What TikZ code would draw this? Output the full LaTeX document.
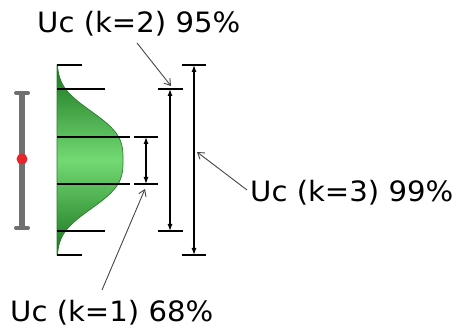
\documentclass[tikz,border=0pt]{standalone}
\usepackage{fontspec}
\setmainfont{DejaVu Sans}
\usetikzlibrary{arrows.meta}
\definecolor{gdark}{RGB}{25,115,30}
\definecolor{glight}{RGB}{115,218,115}
\definecolor{gedge}{RGB}{40,125,45}
\definecolor{bargray}{RGB}{112,112,112}
\definecolor{dotred}{RGB}{232,38,42}
\definecolor{leadgray}{RGB}{70,70,70}
\begin{document}
\begin{tikzpicture}[x=1pt,y=-1pt,
  tick/.style={line width=1.3pt,black},
  dim/.style={line width=1.2pt,black,{Latex[length=7pt,width=5pt]}-{Latex[length=7pt,width=5pt]}},
  leader/.style={line width=0.9pt,leadgray,-{Straight Barb[length=6pt,width=8pt]}},
  lab/.style={anchor=base west,inner sep=0pt,font=\fontsize{28}{30}\selectfont}]
\useasboundingbox (0,0) rectangle (463,328);
% gray bar with red dot
\draw[bargray,line width=6pt] (22,93) -- (22,228);
\draw[bargray,line width=4pt,line cap=round] (16,93) -- (28,93);
\draw[bargray,line width=4pt,line cap=round] (16,228) -- (28,228);
\fill[dotred] (22,159) circle (5.5);
% thin axis line
\draw[gray,line width=0.8pt] (57,65) -- (57,255);
% distribution shape
\path[shade,top color=gdark,bottom color=gdark,middle color=glight,draw=gedge,line width=0.7pt]
  (57,65) -- plot[domain=-95:95,samples=120,smooth] ({57+66*exp(-pow(abs(\x)/56,3))},{160+\x}) -- (57,255) -- cycle;
% left ticks
\draw[tick] (57,65) -- (82,65);
\draw[tick] (57,89) -- (105,89);
\draw[tick] (57,137) -- (130,137);
\draw[tick] (57,184) -- (130,184);
\draw[tick] (57,231) -- (105,231);
\draw[tick] (57,255) -- (82,255);
% k=1
\draw[tick] (134,137) -- (158,137);
\draw[tick] (134,184) -- (158,184);
\coordinate (k1top) at (146,137);
\coordinate (k1bot) at (146,184);
\draw[dim] (k1top) -- (k1bot);
% k=2
\draw[tick] (158,89) -- (183,89);
\draw[tick] (158,231) -- (183,231);
\coordinate (k2top) at (170,89);
\coordinate (k2bot) at (170,231);
\draw[dim] (k2top) -- (k2bot);
% k=3
\draw[tick] (182,65) -- (206,65);
\draw[tick] (182,255) -- (206,255);
\coordinate (k3top) at (194,65);
\coordinate (k3bot) at (194,255);
\draw[dim] (k3top) -- (k3bot);
% labels
\node[lab] (l2) at (37,33) {\scalebox{1.04}[1]{Uc (k=2) 95\%}};
\node[lab] (l3) at (250,202) {\scalebox{1.04}[1]{Uc (k=3) 99\%}};
\node[lab] (l1) at (10,322) {\scalebox{1.04}[1]{Uc (k=1) 68\%}};
% leaders
\coordinate (l2from) at (137,43);
\coordinate (l2tip) at (171,86);
\coordinate (l3from) at (247,190);
\coordinate (l3tip) at (197,152);
\coordinate (l1from) at (102,290);
\coordinate (l1tip) at (145,189);
\draw[leader] (l2from) -- (l2tip);
\draw[leader] (l3from) -- (l3tip);
\draw[leader] (l1from) -- (l1tip);
\end{tikzpicture}
\end{document}
